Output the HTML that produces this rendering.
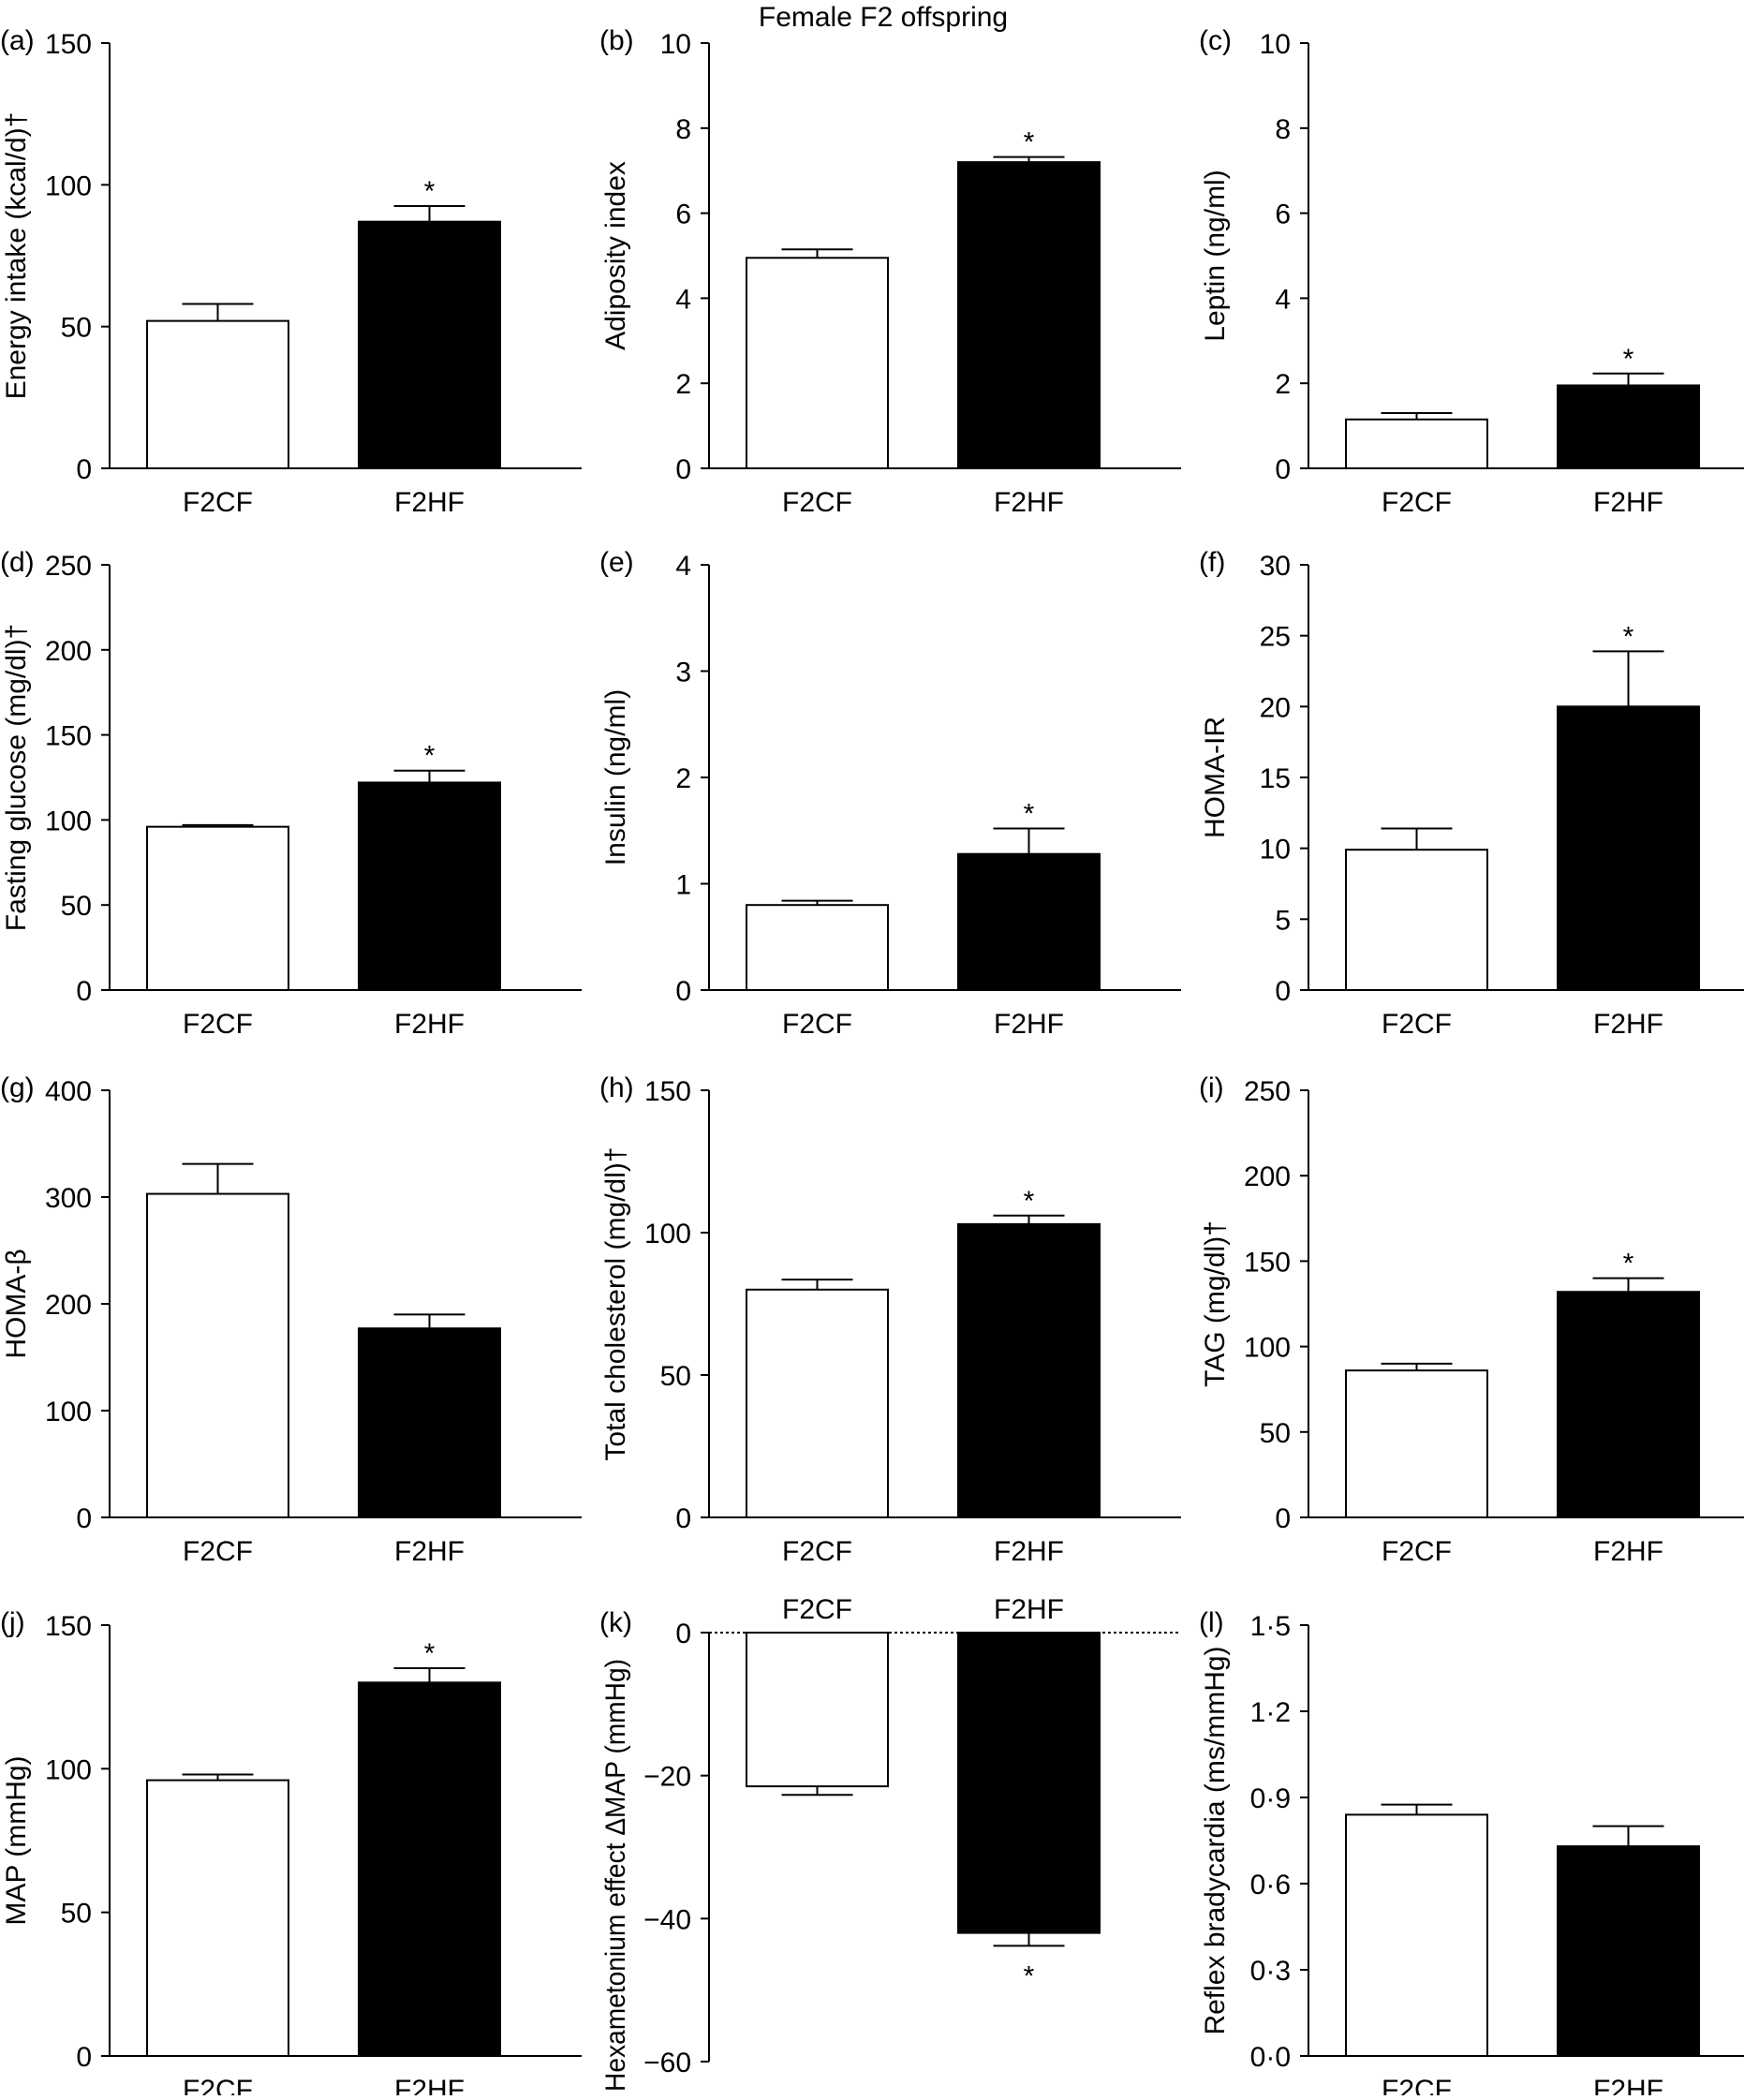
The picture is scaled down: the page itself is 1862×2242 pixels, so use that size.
<!DOCTYPE html>
<html><head><meta charset="utf-8"><style>
body{margin:0;background:#fff}
svg text{font-family:"Liberation Sans",Arial,sans-serif;fill:#000}
</style></head><body>
<svg id="fig" width="1862" height="2237" xmlns="http://www.w3.org/2000/svg">
<text x="943" y="28" font-size="30" text-anchor="middle">Female F2 offspring</text>
</svg>
<script>
const panelLetters = ['a','b','c','d','e','f','g','h','i','j','k','l'];
const yTitles = ['Energy intake (kcal/d)†','Adiposity index','Leptin (ng/ml)','Fasting glucose (mg/dl)†','Insulin (ng/ml)','HOMA-IR','HOMA-β','Total cholesterol (mg/dl)†','TAG (mg/dl)†','MAP (mmHg)','Hexametonium effect ΔMAP (mmHg)','Reflex bradycardia (ms/mmHg)'];
const categories = ['F2CF','F2HF'];
const cfValues = [52,4.95,1.15,96,0.8,9.9,303,80,86,96,-21.5,0.84];
const cfErrors = [6,0.2,0.15,1,0.04,1.5,28,3.5,4,2,1.2,0.035];
const hfValues = [87,7.2,1.95,122,1.28,20,177,103,132,130,-42,0.73];
const hfErrors = [5.5,0.12,0.28,7,0.24,3.9,13,3,8,5,1.8,0.07];
const significant = [1,1,1,1,1,1,0,1,1,1,1,0];
const yMins = [0,0,0,0,0,0,0,0,0,0,-60,0];
const yMaxs = [150,10,10,250,4,30,400,150,250,150,0,1.5];
const tickLists = [[0,50,100,150],[0,2,4,6,8,10],[0,2,4,6,8,10],[0,50,100,150,200,250],[0,1,2,3,4],[0,5,10,15,20,25,30],[0,100,200,300,400],[0,50,100,150],[0,50,100,150,200,250],[0,50,100,150],[-60,-40,-20,0],[0,0.3,0.6,0.9,1.2,1.5]];

const NS='http://www.w3.org/2000/svg';
const svg=document.getElementById('fig');
function mk(tag,attrs,parent){const e=document.createElementNS(NS,tag);for(const k in attrs)e.setAttribute(k,attrs[k]);(parent||svg).appendChild(e);return e;}
const FS=30;
const colX=[117,757,1397];
const rowTop=[46,603,1164,1735];
const rowBot=[500,1057,1620,2195];
for(let p=0;p<12;p++){
  const c=p%3,r=Math.floor(p/3);
  const ax=colX[c];
  let top=rowTop[r],bot=rowBot[r];
  if(p===10){top=1743;bot=2201;}
  const g=mk('g',{});
  
  
  const y=v=>bot-(v-yMins[p])/(yMaxs[p]-yMins[p])*(bot-top);
  const x0=y(0);
  const lbl=mk('text',{x:ax-117,y:top-17+(p===10?-8:0)+24,'font-size':FS},g);
  lbl.textContent='('+panelLetters[p]+')';
  
  
  const yl=mk('line',{x1:ax,y1:top,x2:ax,y2:bot,stroke:'#000','stroke-width':2},g);
  
  
  tickLists[p].forEach(t=>{
    const ty=y(t);
    mk('line',{x1:ax-9,y1:ty,x2:ax,y2:ty,stroke:'#000','stroke-width':2},g);
    const tt=mk('text',{x:ax-19,y:ty+11,'font-size':FS,'text-anchor':'end'},g);
    let s;
    if(p===11)s=t.toFixed(1).replace('.','·');else s=String(t).replace('-','−');
    tt.textContent=s;
    
    
  });
  const cy=p===10?2002:(top+bot)/2;
  const ytAttrs={x:0,y:0,'font-size':FS,'text-anchor':'middle',transform:`translate(${ax-90},${cy}) rotate(-90)`};
  if(p===10){ytAttrs.textLength=462;ytAttrs.lengthAdjust='spacingAndGlyphs';}
  const yt=mk('text',ytAttrs,g);
  yt.textContent=yTitles[p];
  
  
  const xl=mk('line',{x1:ax,y1:x0,x2:ax+504,y2:x0,stroke:'#000','stroke-width':2,'stroke-dasharray':p===10?'3 3':'none'},g);
  
  
  const vals=[cfValues[p],hfValues[p]],errs=[cfErrors[p],hfErrors[p]];
  const bx=[ax+40,ax+266],bw=151;
  for(let b=0;b<2;b++){
    const vy=y(vals[b]);
    const rect=mk('rect',{x:bx[b],y:Math.min(vy,x0),width:bw,height:Math.abs(x0-vy),fill:b?'#000':'#fff',stroke:'#000','stroke-width':2},g);
    
    
    const sign=vals[b]<0?-1:1;
    const ey=y(vals[b]+sign*errs[b]);
    const cx=bx[b]+bw/2;
    const eb=mk('path',{d:`M${cx},${vy}V${ey}M${cx-38},${ey}H${cx+38}`,stroke:'#000','stroke-width':2,fill:'none'},g);
    
    
    if(b===1&&significant[p]){
      const st=mk('text',{x:cx,y:sign>0?ey-6:ey+42,'font-size':FS,'text-anchor':'middle'},g);
      st.textContent='*';
      
      
    }
    const xt=mk('text',{x:cx,y:p===10?1728:x0+46,'font-size':FS,'text-anchor':'middle'},g);
    xt.textContent=categories[b];
    
    
  }
}
</script>
</body></html>
